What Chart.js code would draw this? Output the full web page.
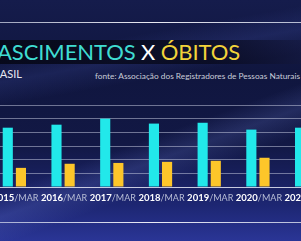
<!DOCTYPE html>
<html>
<head>
<meta charset="utf-8">
<script src="https://cdn.jsdelivr.net/npm/chart.js@4"></script>
<style>
  html, body { margin: 0; padding: 0; }
  body {
    width: 301px; height: 241px; overflow: hidden; position: relative;
    background:
      linear-gradient(160deg, rgba(120,140,230,0) 55%, rgba(120,140,230,0.18) 62%, rgba(120,140,230,0) 70%),
      linear-gradient(170deg, rgba(90,110,220,0) 20%, rgba(90,110,220,0.15) 28%, rgba(90,110,220,0) 36%),
      linear-gradient(180deg, #151c4c 0%, #10163f 30%, #121845 60%, #1d2672 85%, #2a3596 100%);
    font-family: Lato, "Open Sans", sans-serif;
  }
  .rule { position: absolute; left: 0; width: 301px; height: 1px;
    background: linear-gradient(90deg, rgba(220,225,240,0.7), rgba(245,245,252,0.95) 50%, rgba(220,225,240,0.8)); }
  .band { position: absolute; left: 0; top: 40px; width: 301px; height: 24px;
    background: linear-gradient(90deg, rgba(5,6,20,0.85), rgba(8,10,30,0.8) 70%, rgba(20,24,60,0.5)); }
  .title { position: absolute; right: 61px; top: 40px; font-size: 22px; line-height: 24px; font-weight: 400;
    white-space: nowrap; letter-spacing: -0.1px; }
  .title .a { color: #3fdcd2; }
  .title .x { color: #ffffff; }
  .title .b { color: #f2d33a; }
  .sub { position: absolute; right: 279px; top: 68px; font-size: 11px; line-height: 12px; color: #e6e8f0; white-space: nowrap; }
  .src { position: absolute; right: 1px; top: 71px; font-size: 8.3px; line-height: 10px; color: #c9ccd8; white-space: nowrap; }
  #wrap { position: absolute; left: -10px; top: 0; width: 341px; height: 241px; }
</style>
</head>
<body>
<div class="rule" style="top:22px"></div>
<div class="rule" style="top:222px"></div>
<div class="band"></div>
<div class="title"><span class="a">NASCIMENTOS</span> <span class="x">X</span> <span class="b">ÓBITOS</span></div>
<div class="sub">BRASIL</div>
<div class="src">fonte: Associação dos Registradores de Pessoas Naturais</div>
<div id="wrap"><canvas id="chart"></canvas></div>
<script>
// values in thousands
const years = ['2015', '2016', '2017', '2018', '2019', '2020', '2021']
const monthTag = '/MAR'
const births = [217, 228, 250, 232, 235, 210, 217]
const deaths = [70, 85, 88, 92, 96, 107, null]

const CYAN = '#22e8ea'
const YELLOW = '#fdc62a'

// year bold + "/MAR" light, centred under each group
const yearLabels = {
  id: 'yearLabels',
  afterDraw(chart) {
    const { ctx, scales: { x } } = chart
    ctx.save()
    ctx.textBaseline = 'alphabetic'
    years.forEach((yr, i) => {
      const cx = x.getPixelForValue(i) + 1
      ctx.font = 'bold 9.5px Lato, sans-serif'
      const w1 = ctx.measureText(yr).width
      ctx.font = '9px Lato, sans-serif'
      const w2 = ctx.measureText(monthTag).width
      const left = cx - (w1 + w2) / 2
      ctx.font = 'bold 9.5px Lato, sans-serif'
      ctx.fillStyle = '#ffffff'
      ctx.fillText(yr, left, 201)
      ctx.font = '9px Lato, sans-serif'
      ctx.fillStyle = '#b9bfd6'
      ctx.fillText(monthTag, left + w1, 201)
    })
    ctx.restore()
  }
}

new Chart(document.getElementById('chart'), {
  type: 'bar',
  data: {
    labels: years,
    datasets: [
      { label: 'Nascimentos', data: births, backgroundColor: CYAN },
      { label: 'Óbitos', data: deaths, backgroundColor: YELLOW }
    ]
  },
  options: {
    responsive: true,
    maintainAspectRatio: false,
    animation: false,
    layout: { padding: { top: 105, bottom: 54, left: 0, right: 0 } },
    datasets: { bar: { categoryPercentage: 0.54, barPercentage: 0.77 } },
    plugins: { legend: { display: false }, tooltip: { enabled: false } },
    scales: {
      x: { display: false },
      y: {
        min: 0, max: 300,
        ticks: { display: false, stepSize: 50 },
        border: { display: false },
        grid: {
          drawTicks: false,
          color: ctx => ctx.tick.value === 0 ? 'rgba(230,232,245,0.85)' : 'rgba(205,210,230,0.5)'
        }
      }
    }
  },
  plugins: [yearLabels]
})
</script>
</body>
</html>
